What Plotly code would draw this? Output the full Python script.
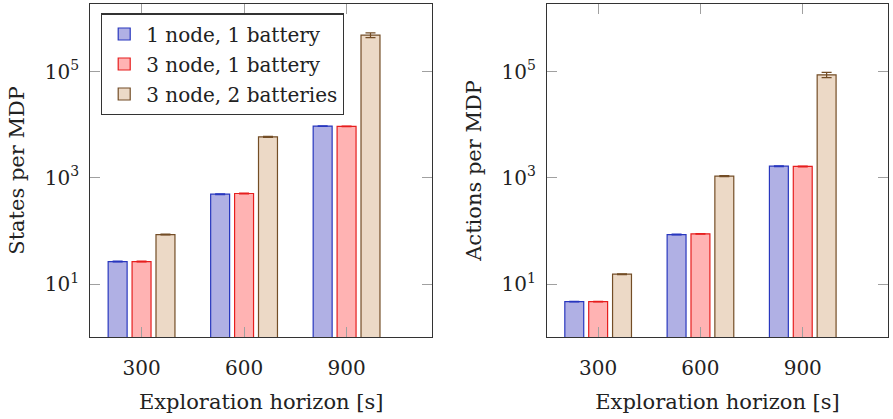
import plotly.graph_objects as go

horizons = [300, 600, 900]
series_names = ["1 node, 1 battery", "3 node, 1 battery", "3 node, 2 batteries"]

states_1n1b = [26.6, 493, 9400]
states_3n1b = [26.6, 507, 9300]
states_3n2b = [85.7, 5900, 484000]
states_err_1n1b = [0.5, 8, 150]
states_err_3n1b = [0.5, 8, 150]
states_err_3n2b = [1.5, 150, 48000]

actions_1n1b = [4.7, 85.7, 1660]
actions_3n1b = [4.7, 88.3, 1640]
actions_3n2b = [15.4, 1076, 86700]
actions_err_1n1b = [0.05, 1.5, 30]
actions_err_3n1b = [0.05, 1.5, 30]
actions_err_3n2b = [0.3, 25, 10000]

ytick_vals = [10, 1000, 100000]
ytick_text = ["10<sup>1</sup>", "10<sup>3</sup>", "10<sup>5</sup>"]

fills = ["rgb(176,176,228)", "rgb(255,179,179)", "rgb(236,217,198)"]
lines = ["rgb(40,55,190)", "rgb(230,30,30)", "rgb(115,77,38)"]

FONT = "DejaVu Serif"

fig = go.Figure()

state_sets = [(states_1n1b, states_err_1n1b), (states_3n1b, states_err_3n1b), (states_3n2b, states_err_3n2b)]
action_sets = [(actions_1n1b, actions_err_1n1b), (actions_3n1b, actions_err_3n1b), (actions_3n2b, actions_err_3n2b)]

for i, (vals, errs) in enumerate(state_sets):
    fig.add_trace(go.Bar(
        x=horizons, y=vals, name=series_names[i], legendgroup=f"g{i}",
        marker=dict(color=fills[i], line=dict(color=lines[i], width=1.2)),
        error_y=dict(type="data", array=errs, visible=True, color=lines[i], thickness=1.2, width=5),
        xaxis="x", yaxis="y", showlegend=True,
    ))
for i, (vals, errs) in enumerate(action_sets):
    fig.add_trace(go.Bar(
        x=horizons, y=vals, name=series_names[i], legendgroup=f"g{i}",
        marker=dict(color=fills[i], line=dict(color=lines[i], width=1.2)),
        error_y=dict(type="data", array=errs, visible=True, color=lines[i], thickness=1.2, width=5),
        xaxis="x2", yaxis="y2", showlegend=False,
    ))

xcommon = dict(
    range=[150, 1150], tickvals=horizons, ticktext=[str(h) for h in horizons],
    ticks="inside", ticklen=10, tickcolor="#a0a0a0", tickwidth=1,
    showline=True, linecolor="#333333", linewidth=1.2, mirror="ticks",
    showgrid=False, zeroline=False,
    tickfont=dict(family=FONT, size=20, color="#222"),
    ticklabelstandoff=13,
)
ycommon = dict(
    type="log", range=[0, 6.28], tickvals=ytick_vals, ticktext=ytick_text,
    ticks="inside", ticklen=10, tickcolor="#a0a0a0", tickwidth=1,
    showline=True, linecolor="#333333", linewidth=1.2, mirror="ticks",
    showgrid=False, zeroline=False,
    tickfont=dict(family=FONT, size=20, color="#222"),
    ticklabelstandoff=6,
)

ydom = [1 - 337.3 / 419, 1 - 3.5 / 419]
title_font = dict(family=FONT, size=21, color="#222")

fig.update_layout(
    width=893, height=419,
    margin=dict(l=0, r=0, t=0, b=0),
    paper_bgcolor="white", plot_bgcolor="white",
    barmode="group", bargap=0.3, bargroupgap=0.207,
    font=dict(family=FONT, size=20, color="#222"),
    xaxis=dict(domain=[90.3 / 893, 432 / 893], anchor="y",
               title=dict(text="Exploration horizon [s]", font=title_font, standoff=14),
               **xcommon),
    yaxis=dict(domain=ydom, anchor="x",
               title=dict(text="States per MDP", font=title_font, standoff=14),
               **ycommon),
    xaxis2=dict(domain=[547 / 893, 888 / 893], anchor="y2",
                title=dict(text="Exploration horizon [s]", font=title_font, standoff=14),
                **xcommon),
    yaxis2=dict(domain=ydom, anchor="x2",
                title=dict(text="Actions per MDP", font=title_font, standoff=14),
                **ycommon),
    legend=dict(
        x=101 / 893, y=1 - 13.3 / 419, xanchor="left", yanchor="top",
        bgcolor="white", bordercolor="#333333", borderwidth=1.2,
        font=dict(family=FONT, size=20, color="#222"),
        tracegroupgap=1, itemwidth=34,
    ),
)

fig.write_html("out.html")
